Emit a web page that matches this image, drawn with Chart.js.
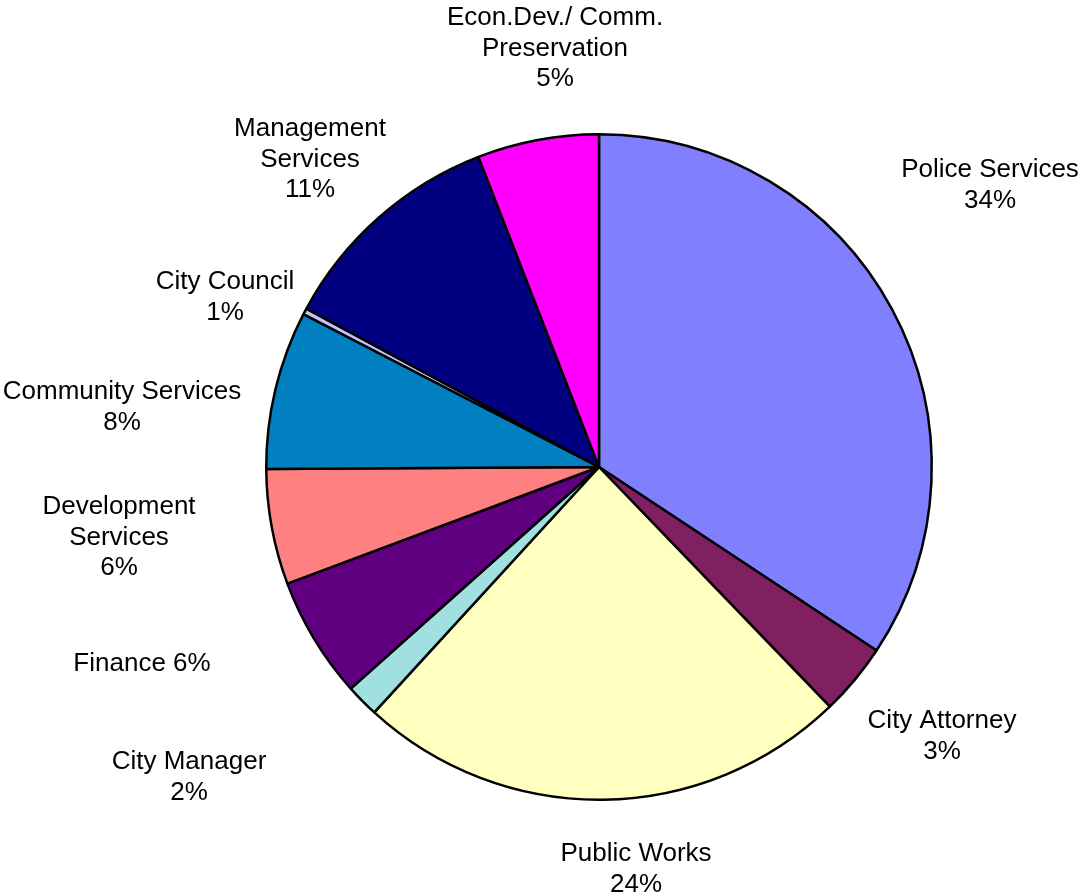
<!DOCTYPE html>
<html>
<head>
<meta charset="utf-8">
<script src="https://cdn.jsdelivr.net/npm/chart.js@4"></script>
<style>
    body { margin: 0; background: #fff; }
    #wrap { width: 1080px; height: 896px; }
</style>
</head>
<body>
<div id="wrap"><canvas id="budget-pie" width="1080" height="896"></canvas></div>
<script>
// slices, clockwise from 12 o'clock
const categories = [
    'Police Services', 'City Attorney', 'Public Works', 'City Manager', 'Finance',
    'Development Services', 'Community Services', 'City Council', 'Management Services',
    'Econ.Dev./ Comm. Preservation'
];
const shares = [34.3, 3.5, 24.0, 1.6, 5.9, 5.6, 7.7, 0.3, 11.2, 5.9];
const shareLabels = ['34%', '3%', '24%', '2%', '6%', '6%', '8%', '1%', '11%', '5%'];
// how each label is broken into lines, as in the original
const labelLines = [
    ['Police Services', '34%'],
    ['City Attorney', '3%'],
    ['Public Works', '24%'],
    ['City Manager', '2%'],
    ['Finance 6%'],
    ['Development', 'Services', '6%'],
    ['Community Services', '8%'],
    ['City Council', '1%'],
    ['Management', 'Services', '11%'],
    ['Econ.Dev./ Comm.', 'Preservation', '5%']
];
const sliceColors = [
    '#8080FF', '#802060', '#FFFFC0', '#A0E0E0', '#600080',
    '#FF8080', '#0080C0', '#C0C0FF', '#000080', '#FF00FF'
];

// label anchors relative to pie centre: [dx, first baseline dy]
const labelOffsets = [
    [391, -290], [343, 261], [37, 394], [-410, 302], [-457, 204],
    [-480, 47], [-477, -68], [-374, -178], [-289, -331], [-44, -442]
];

const outsideLabels = {
    id: 'outsideLabels',
    afterDatasetsDraw(chart) {
        const ctx = chart.ctx;
        const meta = chart.getDatasetMeta(0);
        const cx = meta.data[0].x;
        const cy = meta.data[0].y;
        ctx.save();
        ctx.font = '26px "Liberation Sans", Arial, sans-serif';
        ctx.fillStyle = '#000';
        ctx.textAlign = 'center';
        ctx.textBaseline = 'alphabetic';
        labelLines.forEach((lines, i) => {
            const [dx, dy] = labelOffsets[i];
            lines.forEach((line, j) => {
                ctx.fillText(line, cx + dx, cy + dy + j * 30.5);
            });
        });
        ctx.restore();
    }
};

new Chart(document.getElementById('budget-pie'), {
    type: 'pie',
    data: {
        labels: categories,
        datasets: [{
            data: shares,
            backgroundColor: sliceColors,
            borderColor: '#000',
            borderWidth: 2.5
        }]
    },
    options: {
        responsive: false,
        animation: false,
        layout: { padding: { top: 133, bottom: 95, left: 200, right: 82 } },
        plugins: {
            legend: { display: false },
            tooltip: { enabled: false }
        }
    },
    plugins: [outsideLabels]
});
</script>
</body>
</html>
